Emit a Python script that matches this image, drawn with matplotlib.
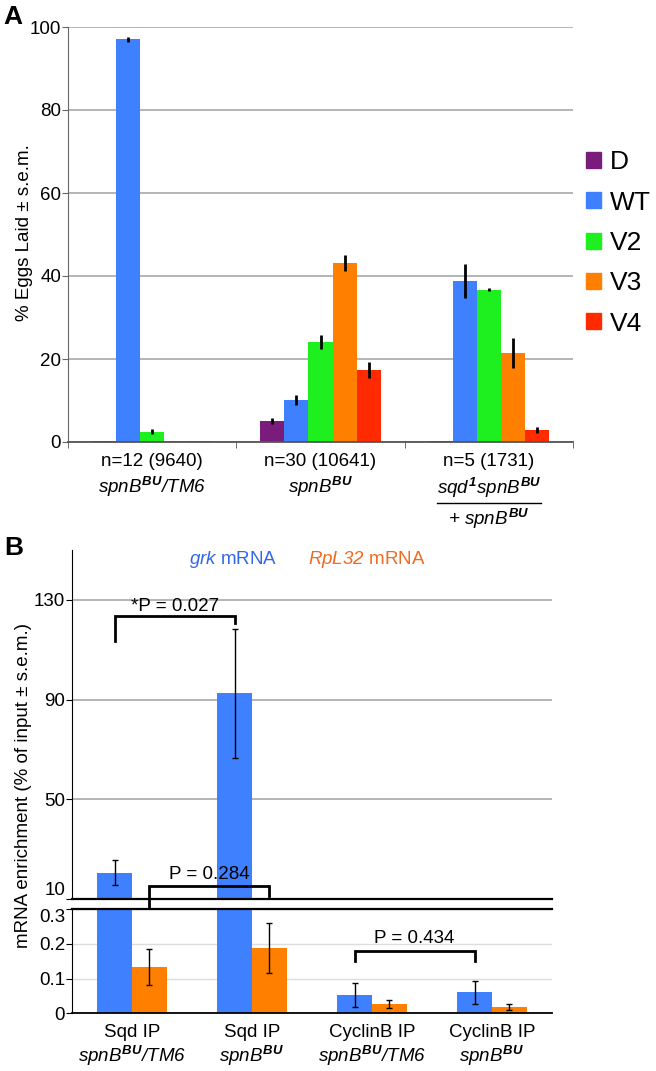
import matplotlib
matplotlib.use("Agg")
import matplotlib.pyplot as plt
import numpy as np
from matplotlib.patches import Patch
from matplotlib.lines import Line2D
from matplotlib.transforms import blended_transform_factory

plt.rcParams['font.family'] = ['Liberation Sans', 'DejaVu Sans']
plt.rcParams['mathtext.fontset'] = 'custom'
# everything set in math mode here is a gene name -> italic, digits included
plt.rcParams['mathtext.rm'] = 'Liberation Sans:italic'
plt.rcParams['mathtext.it'] = 'Liberation Sans:italic'
plt.rcParams['mathtext.bf'] = 'Liberation Sans:bold:italic'

# %% panel A data: % eggs laid per phenotype class
phenotypes = ["D", "WT", "V2", "V3", "V4"]
pheno_colors = ["#7A1C7C", "#3F80FF", "#1EEF1E", "#FF7F00", "#FF2A00"]
genotype_n = ["n=12 (9640)", "n=30 (10641)", "n=5 (1731)"]
d_pct = [0.2, 5.0, 0.2]
d_err = [0.0, 0.7, 0.0]
wt_pct = [97.1, 10.1, 38.8]
wt_err = [0.6, 1.3, 4.0]
v2_pct = [2.5, 24.1, 36.7]
v2_err = [0.6, 1.8, 0.4]
v3_pct = [0.2, 43.1, 21.5]
v3_err = [0.0, 2.0, 3.6]
v4_pct = [0.2, 17.3, 2.8]
v4_err = [0.0, 1.9, 0.7]

# %% panel B data: mRNA enrichment
ip_names = ["Sqd IP", "Sqd IP", "CyclinB IP", "CyclinB IP"]
ip_genotypes = [r"$spnB^{\mathbf{BU}}/TM6$",
                r"$spnB^{\mathbf{BU}}$",
                r"$spnB^{\mathbf{BU}}/TM6$",
                r"$spnB^{\mathbf{BU}}$"]
grk_enrich = [20.6, 92.5, 0.053, 0.061]
grk_err = [5.0, 26.0, 0.034, 0.033]
rpl32_enrich = [0.133, 0.188, 0.026, 0.018]
rpl32_err = [0.053, 0.072, 0.012, 0.009]
grk_color = "#3F80FF"
rpl32_color = "#FF7F00"

W, H = 656, 1071
fig = plt.figure(figsize=(W / 100, H / 100), dpi=100)


def box(x0, x1, ytop, ybot):
    return [x0 / W, 1 - ybot / H, (x1 - x0) / W, (ybot - ytop) / H]


# %% panel A
axA = fig.add_axes(box(68, 573, 27, 442))
pct = [d_pct, wt_pct, v2_pct, v3_pct, v4_pct]
err = [d_err, wt_err, v2_err, v3_err, v4_err]
x = np.arange(len(genotype_n))
bw = 0.143
for i in range(len(phenotypes)):
    xs = x + (i - 2) * bw
    axA.bar(xs, pct[i], bw, color=pheno_colors[i], zorder=2, label=phenotypes[i])
    e = np.array(err[i])
    m = e > 0
    axA.errorbar(xs[m], np.array(pct[i])[m], yerr=e[m], fmt="none",
                 ecolor="black", elinewidth=2, capsize=0, zorder=3)
axA.set_xlim(-0.5, 2.5)
axA.set_ylim(0, 100)
axA.set_yticks([0, 20, 40, 60, 80, 100])
axA.yaxis.grid(True, color="#A8A8A8", lw=1.2, zorder=0)
axA.set_axisbelow(True)
for s in ["top", "right"]:
    axA.spines[s].set_visible(False)
axA.spines["left"].set_color("#666666")
axA.spines["bottom"].set_color("#555555")
axA.spines["bottom"].set_linewidth(1.3)
axA.tick_params(axis="y", labelsize=13.5, length=4, color="#666666", pad=1)
axA.set_xticks(x)
axA.set_xticklabels(genotype_n, fontsize=13.5)
axA.tick_params(axis="x", length=0, pad=8)
axA.set_xticks([-0.5, 0.5, 1.5, 2.5], minor=True)
axA.tick_params(axis="x", which="minor", length=4, color="#555555")

trA = blended_transform_factory(axA.transData, axA.transAxes)
hA = 442 - 27
axA.text(0, -45 / hA, r"$spnB^{\mathbf{BU}}/TM6$", transform=trA,
         ha="center", va="center", fontsize=13.5)
axA.text(1, -45 / hA, r"$spnB^{\mathbf{BU}}$", transform=trA,
         ha="center", va="center", fontsize=13.5)
num = axA.text(2, -46 / hA, r"$sqd^{\mathbf{1}}spnB^{\mathbf{BU}}$",
               transform=trA, ha="center", va="center", fontsize=13.5)
axA.text(2, -77 / hA, r"$+\ spnB^{\mathbf{BU}}$", transform=trA,
         ha="center", va="center", fontsize=13.5)

fig.text(25 / W, 1 - 233 / H, "% Eggs Laid ± s.e.m.", rotation=90,
         ha="center", va="center", fontsize=13.5)
fig.text(13 / W, 1 - 17 / H, "A", fontsize=19, fontweight="bold",
         ha="center", va="center")

handles = [Patch(color=c, label=p) for c, p in zip(pheno_colors, phenotypes)]
fig.legend(handles=handles, loc="center left", bbox_to_anchor=(586 / W, 1 - 243 / H),
           frameon=False, fontsize=19, handlelength=0.55, handleheight=0.55,
           handletextpad=0.35, labelspacing=0.62, borderpad=0, borderaxespad=0)

# %% panel B
axT = fig.add_axes(box(72, 552, 550, 899.3))
axL = fig.add_axes(box(72, 552, 909, 1013.3))
xb = np.arange(len(ip_names))
bwb = 0.29
for ax in (axT, axL):
    ax.bar(xb - bwb / 2, grk_enrich, bwb, color=grk_color, zorder=2)
    ax.bar(xb + bwb / 2, rpl32_enrich, bwb, color=rpl32_color, zorder=2)
    ax.errorbar(xb - bwb / 2, grk_enrich, yerr=grk_err, fmt="none", ecolor="black",
                elinewidth=1, capsize=2.5, capthick=1, zorder=3)
    ax.errorbar(xb + bwb / 2, rpl32_enrich, yerr=rpl32_err, fmt="none", ecolor="black",
                elinewidth=1, capsize=2.5, capthick=1, zorder=3)
    ax.set_xlim(-0.5, 3.5)
    ax.spines["right"].set_visible(False)
    ax.spines["left"].set_color("black")
    ax.tick_params(axis="y", labelsize=13.5, length=4, pad=1)
    ax.set_axisbelow(True)

axT.set_ylim(10, 150)
axT.set_yticks([10, 50, 90, 130])
axT.yaxis.grid(True, color="#A8A8A8", lw=1.2)
axT.spines["top"].set_visible(False)
axT.spines["bottom"].set_linewidth(1.6)
axT.set_xticks([])

axL.set_ylim(0, 0.3)
axL.set_yticks([0, 0.1, 0.2, 0.3])
axL.set_yticklabels(["0", "0.1", "0.2", "0.3"])
axL.yaxis.grid(True, color="#DCDCDC", lw=1)
axL.spines["top"].set_linewidth(1.6)
axL.spines["bottom"].set_linewidth(1.3)
axL.set_xticks([])
# keep the "10" and "0.3" labels at the break from running into each other
axT.get_yticklabels()[0].set_va("bottom")
axL.get_yticklabels()[-1].set_va("top")

trL = blended_transform_factory(axL.transData, axL.transAxes)
hL = 1013.3 - 909
for i in range(len(ip_names)):
    axL.text(i, -19 / hL, ip_names[i], transform=trL, ha="center", va="center",
             fontsize=13.5)
    axL.text(i, -43 / hL, ip_genotypes[i], transform=trL, ha="center", va="center",
             fontsize=13.5)

# significance brackets
bk = dict(color="black", lw=2, clip_on=False, solid_joinstyle="miter", zorder=4)
axT.plot([-bwb / 2, -bwb / 2, 1 - bwb / 2, 1 - bwb / 2], [113.5, 123.7, 123.7, 120.6], **bk)
axT.text(0.5 - bwb / 2, 127.5, "*P = 0.027", ha="center", va="center", fontsize=13.5)
axT.plot([bwb / 2, bwb / 2, 1 + bwb / 2, 1 + bwb / 2], [4.6, 15.3, 15.3, 11.3], **bk)
axT.text(0.5 + bwb / 2, 20.0, "P = 0.284", ha="center", va="center", fontsize=13.5)
axL.plot([2 - bwb / 2, 2 - bwb / 2, 3 - bwb / 2, 3 - bwb / 2], [0.151, 0.18, 0.18, 0.151], **bk)
axL.text(2.5 - bwb / 2, 0.214, "P = 0.434", ha="center", va="center", fontsize=13.5)

fig.text(233 / W, 1 - 560 / H, r"$grk$ mRNA", color="#3366E8",
         ha="center", va="center", fontsize=13.5)
fig.text(367 / W, 1 - 560 / H, r"$RpL32$ mRNA", color="#F26A1E",
         ha="center", va="center", fontsize=13.5)
fig.text(24 / W, 1 - 786 / H, "mRNA enrichment (% of input ± s.e.m.)", rotation=90,
         ha="center", va="center", fontsize=13.5)
fig.text(14 / W, 1 - 548 / H, "B", fontsize=19, fontweight="bold",
         ha="center", va="center")

# fraction bar under the sqd1 spnB label
fig.canvas.draw()
bb = num.get_window_extent()
yline = bb.y0 - 3
fig.add_artist(Line2D([bb.x0 / W, bb.x1 / W], [yline / H, yline / H],
                      transform=fig.transFigure, color="black", lw=1))

fig.savefig("out.png", dpi=100)
